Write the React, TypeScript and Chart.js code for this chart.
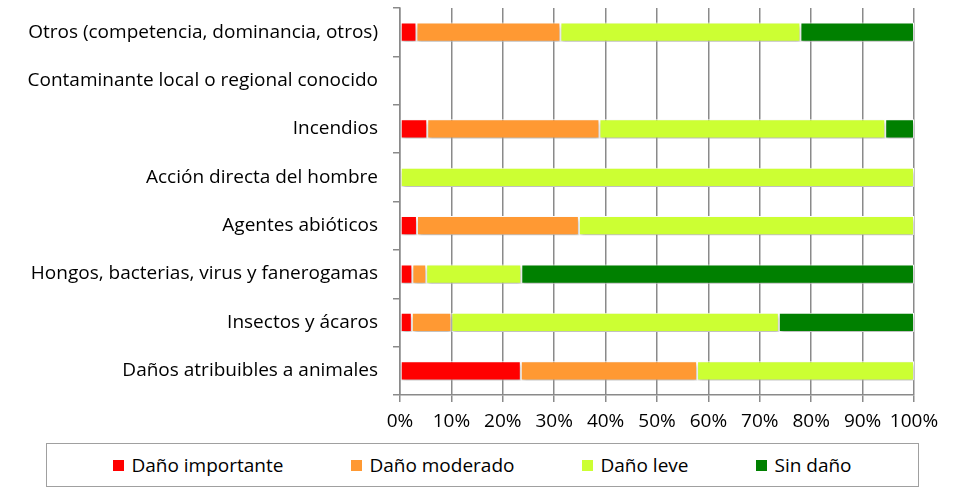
import React, { useEffect, useRef } from "react";
import { Chart, registerables } from "chart.js";

Chart.register(...registerables);

const categories = [
  "Otros (competencia, dominancia, otros)",
  "Contaminante local o regional conocido",
  "Incendios",
  "Acción directa del hombre",
  "Agentes abióticos",
  "Hongos, bacterias, virus y fanerogamas",
  "Insectos y ácaros",
  "Daños atribuibles a animales",
];

const seriesNames = ["Daño importante", "Daño moderado", "Daño leve", "Sin daño"];
const seriesColors = ["#FF0000", "#FF9933", "#CCFF33", "#008000"];

const danoImportante = [3.2, 0, 5.3, 0, 3.3, 2.4, 2.3, 23.5];
const danoModerado = [28.0, 0, 33.5, 0, 31.5, 2.7, 7.7, 34.3];
const danoLeve = [46.7, 0, 55.6, 100, 65.2, 18.5, 63.7, 42.2];
const sinDano = [22.1, 0, 5.6, 0, 0, 76.4, 26.3, 0];

const xTicks = [0, 10, 20, 30, 40, 50, 60, 70, 80, 90, 100];

const FONT = "'Open Sans', 'Noto Sans', sans-serif";

const shadowPlugin = {
  id: "barShadow",
  beforeDatasetsDraw(chart: any) {
    const ctx = chart.ctx;
    ctx.save();
    ctx.shadowColor = "rgba(0,0,0,0.28)";
    ctx.shadowBlur = 4;
    ctx.shadowOffsetX = 1;
    ctx.shadowOffsetY = 3;
  },
  afterDatasetsDraw(chart: any) {
    chart.ctx.restore();
  },
};

export default function App() {
  const ref = useRef<HTMLCanvasElement | null>(null);

  useEffect(() => {
    if (!ref.current) return;
    const all = [danoImportante, danoModerado, danoLeve, sinDano];
    const chart = new Chart(ref.current, {
      type: "bar",
      data: {
        labels: categories,
        datasets: all.map((d, i) => ({
          label: seriesNames[i],
          data: d,
          backgroundColor: seriesColors[i],
          borderColor: "#FFFFFF",
          borderWidth: 1,
          borderSkipped: false,
          categoryPercentage: 1,
          barPercentage: 0.4,
        })),
      },
      options: {
        indexAxis: "y",
        animation: false,
        responsive: false,
        maintainAspectRatio: false,
        layout: { padding: { left: 20, right: 41, top: 8, bottom: 0 } },
        plugins: {
          legend: { display: false },
          tooltip: { enabled: false },
        },
        scales: {
          x: {
            stacked: true,
            min: 0,
            max: 100,
            afterBuildTicks: (scale: any) => {
              scale.ticks = xTicks.map((v) => ({ value: v }));
            },
            afterFit: (scale: any) => {
              scale.height = 45;
              scale.paddingLeft = 0;
              scale.paddingRight = 0;
            },
            ticks: {
              color: "#000",
              font: { family: FONT, size: 19 },
              padding: 8,
              maxRotation: 0,
              minRotation: 0,
              autoSkip: false,
              callback: (v: any) => v + "%",
            },
            grid: {
              color: "#8A8A8A",
              lineWidth: 1.5,
              tickLength: 7,
              drawOnChartArea: true,
            },
            border: { color: "#8A8A8A", width: 1.5 },
          },
          y: {
            stacked: true,
            afterFit: (scale: any) => {
              scale.width = 380;
              scale.paddingTop = 0;
              scale.paddingBottom = 0;
            },
            ticks: {
              color: "#000",
              font: { family: FONT, size: 19 },
              padding: 15,
            },
            grid: {
              color: "#8A8A8A",
              lineWidth: 1.5,
              tickLength: 7,
              offset: true,
              drawOnChartArea: false,
            },
            border: { color: "#8A8A8A", width: 1.5 },
          },
        },
      },
      plugins: [shadowPlugin],
    });
    return () => chart.destroy();
  }, []);

  return (
    <div style={{ position: "fixed", left: 0, top: 0, width: 955, height: 488, background: "#fff" }}>
      <canvas ref={ref} width={955} height={440} style={{ position: "absolute", left: 0, top: 0 }} />
      <div
        style={{
          position: "absolute",
          left: 46,
          top: 443,
          width: 871,
          height: 42,
          border: "1.5px solid #A0A0A0",
          display: "flex",
          alignItems: "center",
          justifyContent: "center",
          fontFamily: FONT,
          fontSize: 19,
          color: "#000",
        }}
      >
        {seriesNames.map((n, i) => (
          <div key={n} style={{ display: "flex", alignItems: "center", marginLeft: i === 0 ? 0 : 68 }}>
            <span style={{ display: "inline-block", width: 11, height: 11, background: seriesColors[i], marginRight: 7 }} />
            <span>{n}</span>
          </div>
        ))}
      </div>
    </div>
  );
}
